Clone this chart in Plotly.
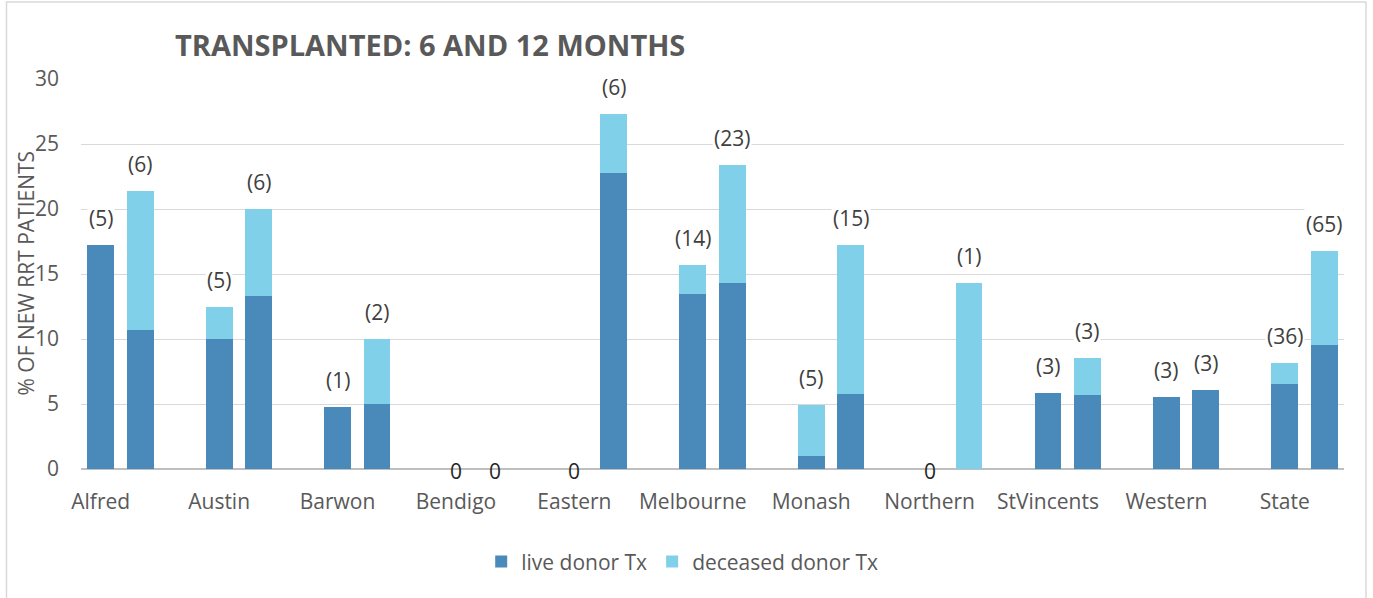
import plotly.graph_objects as go

hospitals = ["Alfred", "Austin", "Barwon", "Bendigo", "Eastern", "Melbourne",
             "Monash", "Northern", "StVincents", "Western", "State"]
live_6 = [17.2, 10.0, 4.8, 0, 0, 13.5, 1.0, 0, 5.85, 5.55, 6.55]
dec_6 = [0, 2.5, 0, 0, 0, 2.2, 3.95, 0, 0, 0, 1.6]
live_12 = [10.7, 13.3, 5.0, 0, 22.8, 14.3, 5.75, 0, 5.7, 6.1, 9.55]
dec_12 = [10.7, 6.7, 5.0, 0, 4.5, 9.1, 11.45, 14.3, 2.85, 0, 7.2]
counts_6 = [5, 5, 1, 0, 0, 14, 5, 0, 3, 3, 36]
counts_12 = [6, 6, 2, 0, 6, 23, 15, 1, 3, 3, 65]

FONT = "Open Sans"
GREY = "#595959"
LIVE_C = "#4A8ABB"
DEC_C = "#81D0EA"
FS = 21

# slot positions: each hospital uses 3 slots (6 months, 12 months, gap)
x6 = [3 * i for i in range(len(hospitals))]
x12 = [3 * i + 1 for i in range(len(hospitals))]

xs = x6 + x12
live = live_6 + live_12
dec = dec_6 + dec_12
counts = counts_6 + counts_12

fig = go.Figure()
fig.add_trace(go.Bar(x=xs, y=live, name="live donor Tx", width=0.68,
                     marker=dict(color=LIVE_C, line=dict(width=0))))
fig.add_trace(go.Bar(x=xs, y=dec, name="deceased donor Tx", width=0.68,
                     marker=dict(color=DEC_C, line=dict(width=0))))

annotations = []
for x, l, d, c in zip(xs, live, dec, counts):
    if c > 0:
        annotations.append(dict(x=x, y=l + d, xref="x", yref="y", text=f"({c})",
                                showarrow=False, yanchor="middle", yshift=27,
                                bgcolor="white",
                                font=dict(family=FONT, size=FS, color="#404040")))
    else:
        annotations.append(dict(x=x, y=0, xref="x", yref="y", text="0",
                                showarrow=False, yanchor="middle", yshift=-2,
                                font=dict(family=FONT, size=FS, color="#262626")))

annotations.append(dict(x=(173 - 81) / 1263, y=(469 - 44) / 390, xref="paper", yref="paper",
                        text="<b>TRANSPLANTED: 6 AND 12 MONTHS</b>", showarrow=False,
                        xanchor="left", yanchor="middle",
                        font=dict(family=FONT, size=29, color=GREY)))
annotations.append(dict(x=(25 - 81) / 1263, y=(469 - 273.5) / 390, xref="paper", yref="paper",
                        text="% OF NEW RRT PATIENTS", showarrow=False, textangle=-90,
                        xanchor="center", yanchor="middle",
                        font=dict(family=FONT, size=FS, color=GREY)))

fig.update_layout(
    barmode="stack",
    width=1373, height=598,
    margin=dict(l=81, r=29, t=79, b=129),
    paper_bgcolor="white", plot_bgcolor="white",
    font=dict(family=FONT, color=GREY),
    showlegend=True,
    legend=dict(orientation="h", x=0.476, xanchor="center", y=-0.238, yanchor="middle",
                font=dict(family=FONT, size=FS, color=GREY), itemwidth=30,
                traceorder="normal"),
    annotations=annotations,
    shapes=[dict(type="rect", xref="paper", yref="paper",
                 x0=(6.5 - 81) / 1263, x1=(1366 - 81) / 1263,
                 y0=-0.5, y1=(469 - 2) / 390,
                 line=dict(color="#d9d9d9", width=1.5), fillcolor="rgba(0,0,0,0)",
                 layer="below")],
)
fig.update_xaxes(range=[-0.5, 31.5], tickmode="array", tickvals=x6, ticktext=hospitals,
                 showgrid=False, zeroline=False, showline=False, ticks="",
                 tickfont=dict(family=FONT, size=FS, color=GREY), ticklabelstandoff=18)
fig.update_yaxes(range=[0, 30], dtick=5, showgrid=True, gridcolor="#d9d9d9", gridwidth=1,
                 zeroline=True, zerolinecolor="#bfbfbf", zerolinewidth=1.5,
                 showline=False, ticks="",
                 tickfont=dict(family=FONT, size=FS, color=GREY), ticklabelstandoff=21)

fig.write_html("out.html", config={"displayModeBar": False},
               post_script="document.body.style.margin='0';")
